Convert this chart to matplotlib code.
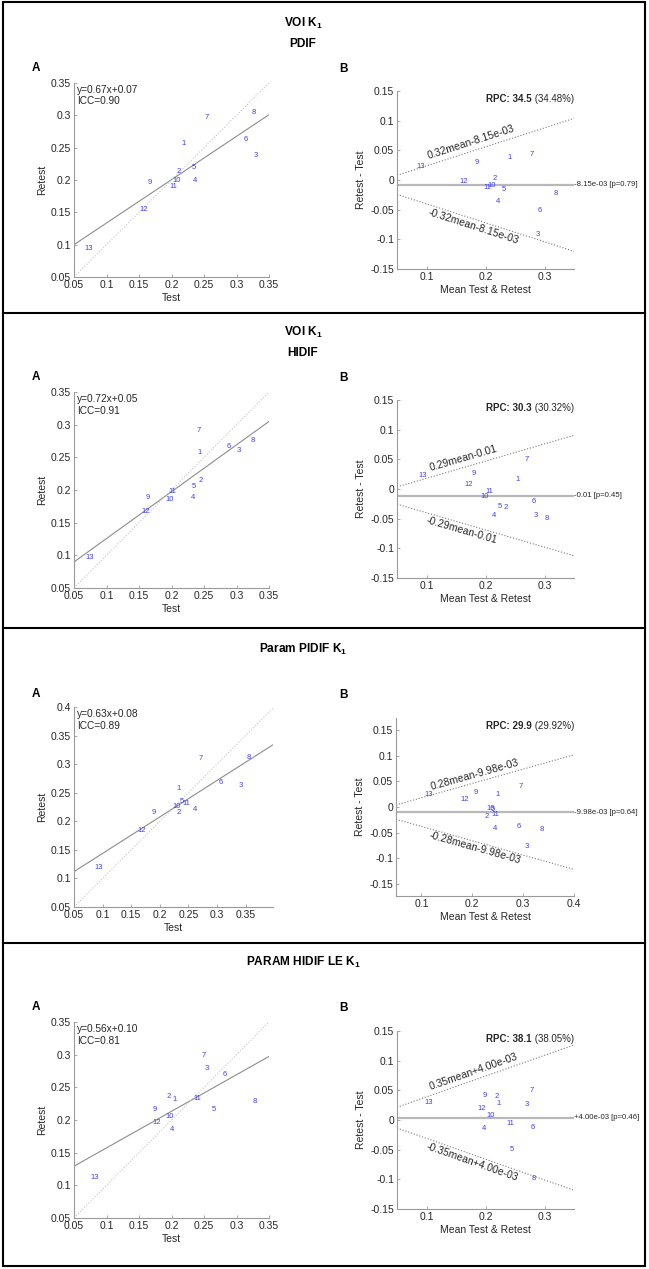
import numpy as np
import matplotlib.pyplot as plt
from matplotlib.lines import Line2D
from matplotlib.patches import Rectangle
from matplotlib.ticker import FuncFormatter

plt.rcParams['font.family'] = ['Liberation Sans', 'DejaVu Sans']
plt.rcParams['mathtext.fontset'] = 'custom'
plt.rcParams['mathtext.rm'] = 'Liberation Sans'
plt.rcParams['mathtext.bf'] = 'Liberation Sans:bold'
plt.rcParams['mathtext.it'] = 'Liberation Sans:italic'
plt.rcParams['axes.unicode_minus'] = False

subjects = [str(i) for i in range(1, 14)]

# VOI K1 - PDIF
voi_pdif_test = [0.218, 0.211, 0.330, 0.236, 0.235, 0.314, 0.254, 0.327, 0.167, 0.208, 0.203, 0.1575, 0.072]
voi_pdif_retest = [0.2565, 0.213, 0.2385, 0.200, 0.2195, 0.2627, 0.297, 0.305, 0.196, 0.199, 0.190, 0.155, 0.0947]

# VOI K1 - HIDIF
voi_hidif_test = [0.2425, 0.2456, 0.304, 0.233, 0.235, 0.2886, 0.2415, 0.3254, 0.1637, 0.1974, 0.2015, 0.1600, 0.0746]
voi_hidif_retest = [0.258, 0.2148, 0.260, 0.189, 0.2056, 0.267, 0.2916, 0.2758, 0.189, 0.185, 0.197, 0.1677, 0.0966]

# Param PIDIF K1
param_pidif_test = [0.233, 0.233, 0.341, 0.2615, 0.2387, 0.306, 0.271, 0.355, 0.1886, 0.229, 0.2457, 0.1688, 0.0931]
param_pidif_retest = [0.257, 0.215, 0.263, 0.220, 0.2338, 0.2677, 0.3105, 0.311, 0.216, 0.226, 0.2308, 0.183, 0.1185]

# PARAM HIDIF LE K1
param_hidif_test = [0.2046, 0.1959, 0.2538, 0.2005, 0.2655, 0.2824, 0.2491, 0.3275, 0.1744, 0.1974, 0.2394, 0.177, 0.0823]
param_hidif_retest = [0.2317, 0.2358, 0.2793, 0.1857, 0.2164, 0.2701, 0.2993, 0.2281, 0.2154, 0.2051, 0.2333, 0.1964, 0.112]

# fitted stats as printed on the figure
reg_slope = [0.67, 0.717, 0.638, 0.56]
reg_intercept = [0.0665, 0.054, 0.080, 0.1013]
reg_labels = ["y=0.67x+0.07", "y=0.72x+0.05", "y=0.63x+0.08", "y=0.56x+0.10"]
icc_labels = ["ICC=0.90", "ICC=0.91", "ICC=0.89", "ICC=0.81"]
bias = [-8.15e-03, -0.011, -9.98e-03, 4.00e-03]
bias_labels = ["-8.15e-03 [p=0.79]", "-0.01 [p=0.45]", "-9.98e-03 [p=0.64]", "+4.00e-03 [p=0.46]"]
loa_k = [0.32, 0.29, 0.28, 0.35]
loa_upper = ["0.32mean-8.15e-03", "0.29mean-0.01", "0.28mean-9.98e-03", "0.35mean+4.00e-03"]
loa_lower = ["-0.32mean-8.15e-03", "-0.29mean-0.01", "-0.28mean-9.98e-03", "-0.35mean+4.00e-03"]
rpc_values = ["RPC: 34.5", "RPC: 30.3", "RPC: 29.9", "RPC: 38.1"]
rpc_pct = [" (34.48%)", " (30.32%)", " (29.92%)", " (38.05%)"]
titles = [["VOI $\\mathbf{K_1}$", "PDIF"], ["VOI $\\mathbf{K_1}$", "HIDIF"],
          ["Param PIDIF $\\mathbf{K_1}$"], ["PARAM HIDIF LE $\\mathbf{K_1}$"]]

tests = [voi_pdif_test, voi_hidif_test, param_pidif_test, param_hidif_test]
retests = [voi_pdif_retest, voi_hidif_retest, param_pidif_retest, param_hidif_retest]

# layout (pixels)
W, H = 649, 1269
offs = [0, 315, 630, 945]
axA_px = [(74, 83, 269, 277), (74, 77, 269, 273), (74, 77, 273, 277), (74, 77, 269, 273)]
axB_px = [(397, 91, 574, 269), (397, 85, 574, 263), (396, 88, 574, 266), (397, 86, 574, 264)]
title_y = [[23, 44], [17, 38], [19], [17]]
letter_y = [68, 62, 64, 62]
A_lim = [(0.05, 0.35), (0.05, 0.35), (0.05, 0.398), (0.05, 0.35)]
A_ylim = [(0.05, 0.35), (0.05, 0.35), (0.05, 0.4), (0.05, 0.35)]
B_xlim = [(0.05, 0.35), (0.05, 0.35), (0.05, 0.4), (0.05, 0.35)]
B_ylim = [(-0.15, 0.15), (-0.15, 0.15), (-0.174, 0.174), (-0.15, 0.15)]
loa_x = [(0.176, 0.179), (0.162, 0.160), (0.204, 0.206), (0.179, 0.178)]

blue = '#3d3dff'
dark = '#262626'
axis_gray = '#9a9a9a'

fig = plt.figure(figsize=(W / 100, H / 100), dpi=100)


def px_axes(l, t, r, b):
    return fig.add_axes([l / W, 1 - b / H, (r - l) / W, (b - t) / H])


def fig_text(x, y, s, **kw):
    fig.text(x / W, 1 - y / H, s, **kw)


fmt = FuncFormatter(lambda v, p: f"{round(v, 3) + 0.0:g}")


def style(ax):
    for side in ['top', 'right']:
        ax.spines[side].set_visible(False)
    for side in ['left', 'bottom']:
        ax.spines[side].set_color(axis_gray)
        ax.spines[side].set_linewidth(0.8)
    ax.tick_params(direction='in', length=2, width=0.6, color=axis_gray,
                   labelsize=7.5, labelcolor=dark, pad=2)
    ax.xaxis.set_major_formatter(fmt)
    ax.yaxis.set_major_formatter(fmt)
    ax.patch.set_alpha(0)


for i in range(4):
    o = offs[i]
    test = np.array(tests[i])
    retest = np.array(retests[i])

    for line, ty in zip(titles[i], title_y[i]):
        fig_text(303, o + ty, line, ha='center', va='center', fontsize=8.6, fontweight='bold')
    fig_text(36, o + letter_y[i], "A", ha='center', va='center', fontsize=8.5, fontweight='bold')
    fig_text(343, o + letter_y[i] + 1, "B", ha='center', va='center', fontsize=8.5, fontweight='bold')

    # A: test vs retest
    l, t, r, b = axA_px[i]
    axA = px_axes(l, o + t, r, o + b)
    style(axA)
    x0, x1 = A_lim[i]
    y0, y1 = A_ylim[i]
    xs = np.array([x0, x1])
    axA.plot(xs, reg_slope[i] * xs + reg_intercept[i], color='#8c8c8c', lw=0.8)
    axA.plot([x0, y1], [y0, y1], ':', color='#c4c4c4', lw=0.8)
    for s, tx, rx in zip(subjects, test, retest):
        axA.text(tx, rx, s, color=blue, fontsize=5.5, ha='center', va='center')
    axA.text(0.015, 0.965, reg_labels[i], transform=axA.transAxes, fontsize=7.3, color=dark, va='center')
    axA.text(0.015, 0.905, icc_labels[i], transform=axA.transAxes, fontsize=7.3, color=dark, va='center')
    axA.set_xlim(x0, x1)
    axA.set_ylim(y0, y1)
    axA.set_xticks([0.05, 0.1, 0.15, 0.2, 0.25, 0.3, 0.35])
    axA.set_yticks(np.round(np.arange(0.05, y1 + 1e-6, 0.05), 2))
    axA.set_xlabel("Test", fontsize=7.5, color=dark, labelpad=2)
    axA.set_ylabel("Retest", fontsize=7.5, color=dark, labelpad=3)

    # B: Bland-Altman
    l, t, r, b = axB_px[i]
    axB = px_axes(l, o + t, r, o + b)
    style(axB)
    bx0, bx1 = B_xlim[i]
    by0, by1 = B_ylim[i]
    mean = (test + retest) / 2
    diff = retest - test
    xs = np.array([bx0, bx1])
    axB.axhline(bias[i], color='#b8b8b8', lw=1.6)
    axB.plot(xs, loa_k[i] * xs + bias[i], ':', color='#7a7a7a', lw=0.8)
    axB.plot(xs, -loa_k[i] * xs + bias[i], ':', color='#7a7a7a', lw=0.8)
    for s, mx, dy in zip(subjects, mean, diff):
        axB.text(mx, dy, s, color=blue, fontsize=5.5, ha='left', va='center')
    ang = np.degrees(np.arctan(loa_k[i]))
    ux, lx = loa_x[i]
    axB.text(ux, loa_k[i] * ux + bias[i] + 0.015, loa_upper[i], rotation=ang,
             transform_rotates_text=True, rotation_mode='anchor',
             ha='center', va='center', fontsize=7.5, color=dark)
    axB.text(lx, -loa_k[i] * lx + bias[i] - 0.013, loa_lower[i], rotation=-ang,
             transform_rotates_text=True, rotation_mode='anchor',
             ha='center', va='center', fontsize=7.5, color=dark)
    axB.text(bx1, bias[i], bias_labels[i], fontsize=5.6, color=dark, ha='left', va='center')
    pct = axB.text(1.0, 0.955, rpc_pct[i], transform=axB.transAxes, fontsize=7,
                   color=dark, ha='right', va='center')
    axB.annotate(rpc_values[i], xy=(0, 0.5), xycoords=pct, fontsize=7, fontweight='bold',
                 color=dark, ha='right', va='center')
    axB.set_xlim(bx0, bx1)
    axB.set_ylim(by0, by1)
    axB.set_xticks(np.round(np.arange(0.1, bx1 + 1e-6, 0.1), 1))
    axB.set_yticks(np.round(np.arange(-0.15, 0.151, 0.05), 2))
    axB.set_xlabel("Mean Test & Retest", fontsize=7.5, color=dark, labelpad=2)
    axB.set_ylabel("Retest - Test", fontsize=7.5, color=dark, labelpad=3)

# panel frames
fig.add_artist(Rectangle((3 / W, 1 - 1266 / H), 642 / W, 1264 / H, fill=False,
                         ec='black', lw=1.5, transform=fig.transFigure))
for yy in [313, 628, 943]:
    fig.add_artist(Line2D([3 / W, 645 / W], [1 - yy / H, 1 - yy / H], color='black', lw=1.5,
                          transform=fig.transFigure))

fig.savefig("out.png", dpi=100)
